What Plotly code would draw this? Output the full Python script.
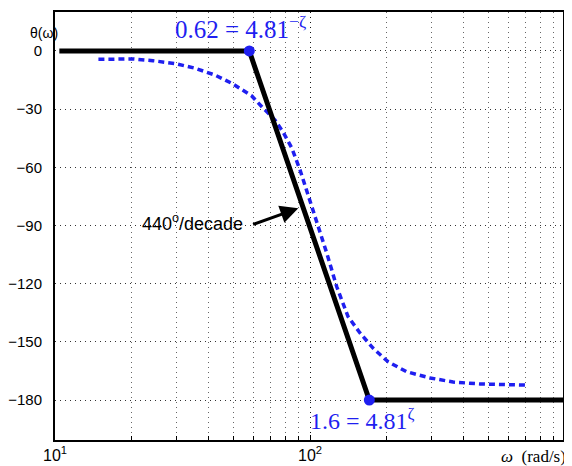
import plotly.graph_objects as go

# asymptote (straight-line approximation)
asym_w = [10.4, 57.8, 170.8, 1000]
asym_theta = [0, 0, -180, -180]

# break points
brk_w = [57.8, 170.8]
brk_theta = [0, -180]

# exact phase curve
curve_w = [14.8, 18.3, 20.2, 24.2, 29.6, 35.4, 42.4, 49.9, 54.6, 59.1, 65.4, 72.9,
           78.4, 84.8, 91.4, 98.2, 106.2, 116.3, 127.3, 141, 157, 176.6, 202, 239,
           295.6, 364, 464, 697]
curve_theta = [-4.3, -4.0, -4.1, -5.0, -6.5, -8.9, -12.4, -17.0, -20.1, -23.2, -29.4, -35.6,
               -41.8, -50.0, -61.4, -74.3, -87.2, -104.2, -121.6, -137.0, -145.4, -153.2, -160.2, -165.4,
               -168.6, -170.7, -171.7, -172.3]

y_ticks = [0, -30, -60, -90, -120, -150, -180]
x_ticks = [10, 100]
x_ticktext = ["10<sup>1</sup>", "10<sup>2</sup>"]
x_minor = [20, 30, 40, 50, 60, 70, 80, 90, 200, 300, 400, 500, 600, 700, 800, 900]

BLUE = "#1f1ff0"
SERIF = "Liberation Serif, Times New Roman, serif"

fig = go.Figure()
fig.add_trace(go.Scatter(x=curve_w, y=curve_theta, mode="lines",
                         line=dict(color=BLUE, width=3.5, dash="6px,4px"),
                         hoverinfo="skip"))
fig.add_trace(go.Scatter(x=asym_w, y=asym_theta, mode="lines",
                         line=dict(color="black", width=5), hoverinfo="skip"))
fig.add_trace(go.Scatter(x=brk_w, y=brk_theta, mode="markers",
                         marker=dict(color=BLUE, size=11), hoverinfo="skip"))

# page body has an 8px margin, so the figure is offset by 8px
fig.update_layout(
    width=564, height=458,
    margin=dict(l=47, r=9, t=4, b=26),
    paper_bgcolor="white", plot_bgcolor="white",
    showlegend=False,
    font=dict(family="Liberation Sans, Arial, sans-serif", color="black", size=15),
)

fig.update_xaxes(
    type="log", range=[1, 2.992], automargin=False,
    tickvals=x_ticks, ticktext=x_ticktext,
    tickfont=dict(size=16),
    showline=True, linecolor="black", linewidth=2, mirror=True,
    ticks="inside", ticklen=5, tickcolor="black",
    showgrid=True, gridcolor="#111111", griddash="1px,4px", gridwidth=1,
    minor=dict(tickvals=x_minor, showgrid=True, gridcolor="#666666", griddash="1px,4px", gridwidth=1,
               ticks="inside", ticklen=4, tickcolor="black"),
    zeroline=False,
)
fig.update_yaxes(
    range=[-200.6, 20.1], automargin=False,
    tickvals=y_ticks,
    showline=True, linecolor="black", linewidth=2, mirror=True,
    ticks="", ticklabelstandoff=8,
    showgrid=True, gridcolor="#333333", griddash="1px,4px", gridwidth=1,
    zeroline=False,
)

fig.add_annotation(x=1.7255, y=12.4, xref="x", yref="y",
                   text="0.62 = 4.81<sup>−ζ</sup>", showarrow=False,
                   font=dict(family=SERIF, size=25, color=BLUE))
fig.add_annotation(x=2.204, y=-189.8, xref="x", yref="y",
                   text="1.6 = 4.81<sup>ζ</sup>", showarrow=False,
                   font=dict(family=SERIF, size=24, color=BLUE))
fig.add_annotation(x=1.541, y=-88.2, xref="x", yref="y",
                   text="440<sup>o</sup>/decade", showarrow=False,
                   font=dict(size=18, color="black"))
fig.add_annotation(x=1.954, y=-81.1, xref="x", yref="y",
                   ax=1.771, ay=-89.7, axref="x", ayref="y",
                   text="", showarrow=True, arrowhead=2, arrowsize=1.2,
                   arrowwidth=3, arrowcolor="black")
fig.add_annotation(x=-0.053, y=0.975, xref="paper", yref="paper",
                   text="θ(ω)", showarrow=False, font=dict(size=14, color="black"))
fig.add_annotation(x=1.01, y=-0.012, xref="paper", yref="paper",
                   xanchor="right", yanchor="top",
                   text="<i>ω</i>  (rad/s)", showarrow=False,
                   font=dict(family=SERIF, size=17, color="black"))

fig.write_html("out.html")
